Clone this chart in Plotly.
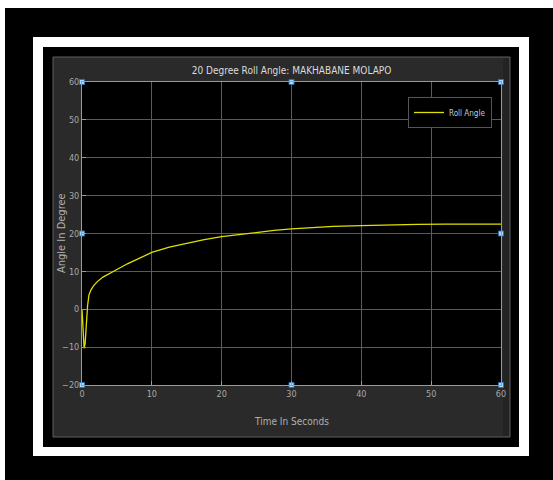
import plotly.graph_objects as go

# ---- data ----
time_s = [0, 0.1, 0.2, 0.3, 0.45, 0.6, 0.8, 1.0, 1.3, 1.7, 2.2, 3, 4, 5, 6.5, 8, 10,
          12.5, 15, 17.5, 20, 22.5, 25, 27.5, 30, 33, 36, 40, 44, 48, 52, 56, 60]
roll_deg = [0, -4, -8, -10.3, -9, -4, 1, 3.8, 5.2, 6.3, 7.3, 8.5, 9.6, 10.5, 12, 13.3, 15,
            16.4, 17.5, 18.4, 19.2, 19.8, 20.3, 20.8, 21.2, 21.6, 21.9, 22.1, 22.3, 22.4, 22.5, 22.5, 22.5]
handle_x = [0, 30, 60, 0, 60, 0, 30, 60]
handle_y = [60, 60, 60, 20, 20, -20, -20, -20]
x_ticks = [0, 10, 20, 30, 40, 50, 60]
y_ticks = [-20, -10, 0, 10, 20, 30, 40, 50, 60]

W, H = 553, 480
L, R, T, B = 82, 501, 82, 385
pw, ph = R - L, B - T

def px(x):
    return (x - L) / pw

def py(y):
    return (B - y) / ph

FONT = "DejaVu Sans Condensed, Liberation Sans Narrow, sans-serif"

fig = go.Figure()
fig.add_trace(go.Scatter(x=time_s, y=roll_deg, mode="lines", name="Roll Angle",
                         line=dict(color="#e0e000", width=1.3)))
fig.add_trace(go.Scatter(x=handle_x, y=handle_y, mode="markers", showlegend=False,
                         hoverinfo="skip", cliponaxis=False,
                         marker=dict(symbol="square", size=5, color="#a8d8f8",
                                     line=dict(color="#2f6fb0", width=1))))

def rect(x0, y0, x1, y1, fill, line_color=None, lw=0):
    return dict(type="rect", xref="paper", yref="paper", layer="below",
                x0=px(x0), x1=px(x1), y0=py(y1), y1=py(y0),
                fillcolor=fill, line=dict(color=line_color or fill, width=lw))

shapes = [
    rect(5, 8, 553, 480, "black"),
    rect(33, 37, 529, 456, "white"),
    rect(43, 47, 519, 447, "black"),
    rect(53, 57, 510, 437, "#2a2a2a", "#5e5e5e", 1),
    rect(503, 58, 509, 436, "#232323"),
    rect(L, T, R, B, "black"),
]

fig.update_layout(
    width=W, height=H,
    margin=dict(l=L, r=W - R, t=T, b=H - B),
    paper_bgcolor="white", plot_bgcolor="black",
    shapes=shapes,
    showlegend=True,
    legend=dict(x=px(492), y=py(97), xanchor="right", yanchor="top",
                bgcolor="black", bordercolor="#555555", borderwidth=1,
                font=dict(family=FONT, size=8, color="#c8c8c8"),
                itemwidth=30, tracegroupgap=0),
    title=dict(text="20 Degree Roll Angle: MAKHABANE MOLAPO", x=0.5, xref="paper",
               y=1 - 70 / H, yref="container", yanchor="middle", xanchor="center",
               font=dict(family=FONT, size=10, color="#dcdcdc")),
    xaxis=dict(range=[0, 60], tickvals=x_ticks, showgrid=True, gridcolor="#5a5a5a",
               gridwidth=1, zeroline=False, showline=True, linecolor="#9a9a9a",
               mirror=True, ticks="inside", ticklen=4, tickcolor="#9a9a9a",
               tickfont=dict(family=FONT, size=9, color="#a8a8a8")),
    yaxis=dict(range=[-20, 60], tickvals=y_ticks, showgrid=True, gridcolor="#5a5a5a",
               gridwidth=1, zeroline=False, showline=True, linecolor="#9a9a9a",
               mirror=True, ticks="inside", ticklen=4, tickcolor="#9a9a9a",
               tickfont=dict(family=FONT, size=9, color="#a8a8a8")),
    annotations=[
        dict(text="Time In Seconds", xref="paper", yref="paper", x=0.5, y=py(421),
             showarrow=False, xanchor="center", yanchor="middle",
             font=dict(family=FONT, size=10, color="#b0b0b0")),
        dict(text="Angle In Degree", xref="paper", yref="paper", x=px(61), y=py(233),
             showarrow=False, textangle=-90, xanchor="center", yanchor="middle",
             font=dict(family=FONT, size=11, color="#b0b0b0")),
    ],
)

fig.write_html("out.html")
